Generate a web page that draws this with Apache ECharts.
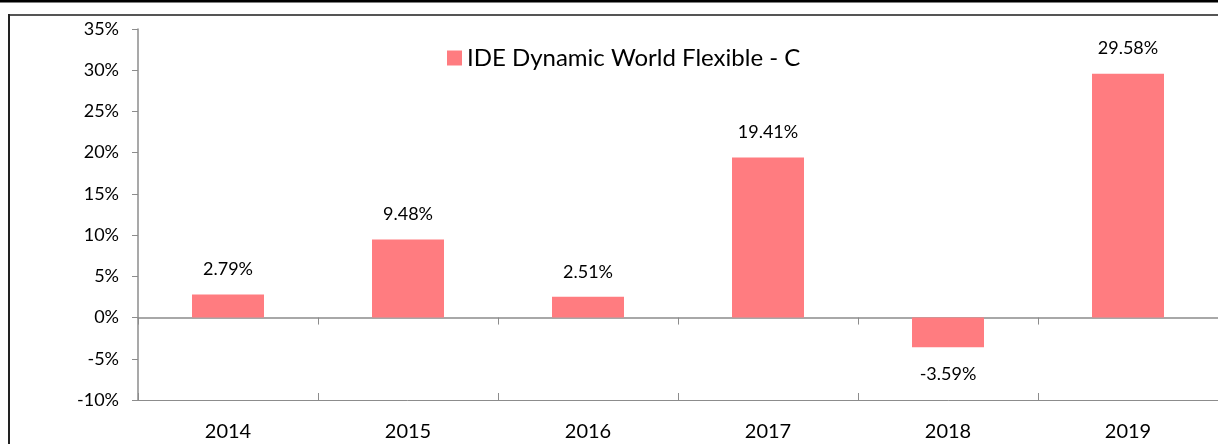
<!DOCTYPE html>
<html>
<head>
<meta charset="utf-8">
<script src="https://cdn.jsdelivr.net/npm/echarts@6/dist/echarts.min.js"></script>
<style>
* { margin: 0; padding: 0; }
html, body { width: 1218px; height: 444px; background: #fff; overflow: hidden; }
#chart { width: 1218px; height: 444px; }
</style>
</head>
<body>
<div id="chart"></div>
<script>
// data
const years = ['2014', '2015', '2016', '2017', '2018', '2019']
const returns = [2.79, 9.48, 2.51, 19.41, -3.59, 29.58]
const seriesName = 'IDE Dynamic World Flexible - C'

const font = 'Lato, "Open Sans", sans-serif'
const barColor = '#FF7C80'
const axisGray = '#8c8c8c'

const chart = echarts.init(document.getElementById('chart'))

const barData = returns.map(v => ({
    value: v,
    label: v < 0 ? { position: 'bottom', distance: 18 } : {}
}))

chart.setOption({
    animation: false,
    textStyle: { fontFamily: font },
    grid: { left: 138, top: 29, bottom: 44, width: 1084 },
    legend: {
        left: 442,
        top: 41,
        itemWidth: 15,
        itemHeight: 15,
        itemGap: 6,
        icon: 'rect',
        textStyle: { fontSize: 24, color: '#000', fontFamily: font },
        data: [seriesName]
    },
    xAxis: [
        {
            type: 'category',
            data: years,
            axisLine: { onZero: true, lineStyle: { color: axisGray, width: 1.5 } },
            axisTick: { show: true, length: 7, lineStyle: { color: axisGray } },
            axisLabel: { show: false }
        },
        {
            type: 'category',
            data: years,
            position: 'bottom',
            axisLine: { onZero: true, lineStyle: { color: axisGray } },
            axisTick: { show: true, inside: true, length: 7, lineStyle: { color: axisGray } },
            axisLabel: { show: false }
        },
        {
            type: 'category',
            data: years,
            position: 'bottom',
            axisLine: { show: false, onZero: false },
            axisTick: { show: false },
            axisLabel: { color: '#000', fontSize: 20, margin: 22 }
        }
    ],
    yAxis: {
        type: 'value',
        min: -10,
        max: 35,
        interval: 5,
        splitLine: { show: false },
        axisLine: { show: true, lineStyle: { color: axisGray, width: 1.5 } },
        axisTick: { show: true, length: 6, lineStyle: { color: axisGray } },
        axisLabel: { formatter: '{value}%', color: '#000', fontSize: 18, margin: 19 }
    },
    series: [
        {
            name: seriesName,
            type: 'bar',
            barWidth: 72,
            data: barData,
            itemStyle: { color: barColor },
            label: {
                show: true,
                position: 'top',
                distance: 16,
                color: '#000',
                fontSize: 18,
                formatter: p => p.value.toFixed(2) + '%'
            }
        }
    ],
    graphic: [
        { type: 'line', shape: { x1: 0, y1: 1, x2: 1218, y2: 1 }, style: { stroke: '#000', lineWidth: 3 } },
        { type: 'line', shape: { x1: 8, y1: 15, x2: 1218, y2: 15 }, style: { stroke: '#555', lineWidth: 2 } },
        { type: 'line', shape: { x1: 9, y1: 14, x2: 9, y2: 444 }, style: { stroke: '#222', lineWidth: 2 } }
    ]
})
</script>
</body>
</html>
